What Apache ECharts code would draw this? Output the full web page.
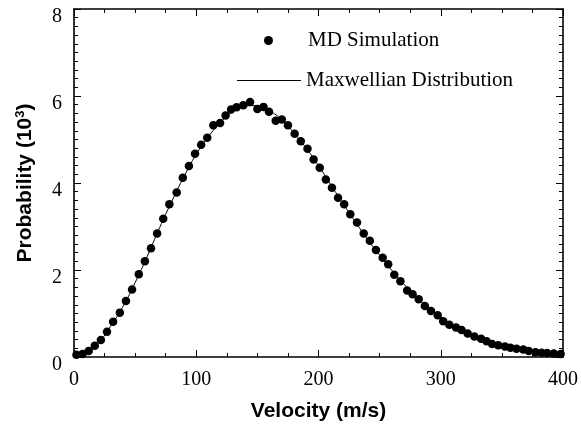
<!DOCTYPE html>
<html><head><meta charset="utf-8">
<script src="https://cdn.jsdelivr.net/npm/echarts@6/dist/echarts.min.js"></script>
<style>html,body{margin:0;padding:0;background:#fff}#c{width:581px;height:427px}</style>
</head><body><div id="c"></div>
<script>
// MD simulation points (velocity m/s, probability x10^-3)
var mdVelocity = [2,7,12,17,22,27,32,37.5,42.5,47.5,
  53,58,63,68,73,78,84,89,94,99,
  104,109,114,119.5,124,128.5,133,138.5,144,150,
  155,159.5,165,170,175,180.5,185.5,191,196,201,
  206,211,216,221,226,231.5,237,242,247,252.5,
  257,262,267,272.5,277,282,287,292,297.5,302,
  307,312.5,317,322,327.5,333,337.5,342,347,352.5,
  357,362,367.5,372,377.5,382.5,387,392.5,398];
var mdProb = [0.05,0.07,0.14,0.26,0.39,0.58,0.81,1.02,1.29,1.55,
  1.90,2.20,2.50,2.84,3.18,3.51,3.78,4.12,4.39,4.67,
  4.88,5.04,5.33,5.38,5.55,5.69,5.74,5.79,5.86,5.70,
  5.75,5.64,5.43,5.46,5.33,5.13,4.96,4.79,4.54,4.35,
  4.08,3.89,3.66,3.51,3.28,3.09,2.84,2.67,2.46,2.28,
  2.13,1.89,1.74,1.53,1.44,1.33,1.17,1.06,0.96,0.82,
  0.74,0.68,0.62,0.54,0.47,0.42,0.36,0.30,0.27,0.24,
  0.21,0.19,0.17,0.14,0.11,0.10,0.09,0.08,0.07];
// Maxwellian curve
var maxVelocity = [0,10,20,30,40,50,60,70,80,90,100,110,120,130,140,150,160,170,180,190,200,
  210,220,230,240,250,260,270,280,290,300,310,320,330,340,350,360,370,380,390,400];
var maxProb = [0.0,0.11,0.33,0.71,1.16,1.71,2.32,2.97,3.58,4.15,4.66,5.07,5.40,5.64,5.77,5.78,5.66,5.45,5.15,4.80,4.40,
  3.96,3.53,3.11,2.71,2.34,1.99,1.67,1.39,1.13,0.92,0.74,0.59,0.46,0.35,0.27,0.20,0.15,0.11,0.08,0.06];
var xTicks = [0,100,200,300,400];
var yTicks = [0,2,4,6,8];

var serif = '"Liberation Serif", "Times New Roman", serif';
var sans = '"Liberation Sans", Arial, sans-serif';
var chart = echarts.init(document.getElementById('c'), null, {renderer:'canvas'});

var mdData = mdVelocity.map(function(v,i){return [v, mdProb[i]];});
var maxData = maxVelocity.map(function(v,i){return [v, maxProb[i]];});

function axisBase(minorSplit){
  return {
    type:'value',
    axisLine:{show:true,onZero:false,lineStyle:{color:'#000',width:1.6}},
    axisTick:{show:true,inside:true,length:7,lineStyle:{color:'#000',width:1}},
    minorTick:{show:true,splitNumber:minorSplit,length:4,lineStyle:{color:'#000',width:1}},
    splitLine:{show:false}
  };
}
var xBottom = Object.assign(axisBase(4), {
  position:'bottom', min:xTicks[0], max:xTicks[xTicks.length-1], interval:100,
  axisLabel:{color:'#000',fontFamily:serif,fontSize:20,margin:13},
  name:'Velocity (m/s)', nameLocation:'middle', nameGap:44,
  nameTextStyle:{color:'#000',fontFamily:sans,fontWeight:'bold',fontSize:21}
});
var xTop = Object.assign(axisBase(4), {
  position:'top', min:xTicks[0], max:xTicks[xTicks.length-1], interval:100,
  axisLabel:{show:false}
});
var yLeft = Object.assign(axisBase(10), {
  position:'left', min:yTicks[0], max:yTicks[yTicks.length-1], interval:2,
  axisLabel:{color:'#000',fontFamily:serif,fontSize:20,margin:12,verticalAlign:'top',lineHeight:15},
  name:'{a|Probability (10}{s|3}{a|)}', nameLocation:'middle', nameGap:37, nameRotate:90,
  nameTextStyle:{color:'#000',fontFamily:sans,fontWeight:'bold',fontSize:21,
    rich:{a:{fontFamily:sans,fontWeight:'bold',fontSize:21,color:'#000'},
          s:{fontFamily:sans,fontWeight:'bold',fontSize:13,color:'#000',verticalAlign:'top',padding:[0,0,10,0]}}}
});
var yRight = Object.assign(axisBase(10), {
  position:'right', min:yTicks[0], max:yTicks[yTicks.length-1], interval:2,
  axisLabel:{show:false}
});

chart.setOption({
  animation:false,
  backgroundColor:'#fff',
  grid:{left:74,right:15,top:9,bottom:67,containLabel:false},
  xAxis:[xBottom,xTop],
  yAxis:[yLeft,yRight],
  legend:[
    {data:['MD Simulation'],left:264,top:30,padding:0,orient:'vertical',itemWidth:9,itemHeight:9,
     icon:'circle',
     textStyle:{color:'#000',fontFamily:serif,fontSize:21,padding:[0,0,0,30]}},
    {data:[{name:'Maxwellian Distribution',icon:'rect'}],left:237,top:70,padding:0,orient:'vertical',
     itemWidth:64,itemHeight:1.2,
     textStyle:{color:'#000',fontFamily:serif,fontSize:21}}
  ],
  series:[
    {name:'Maxwellian Distribution',type:'line',data:maxData,smooth:true,symbol:'none',showSymbol:false,
     lineStyle:{color:'#000',width:1},itemStyle:{color:'#000'},z:2},
    {name:'MD Simulation',type:'scatter',data:mdData,symbol:'circle',symbolSize:8.5,
     itemStyle:{color:'#000',opacity:1},z:3}
  ]
});
</script></body></html>
